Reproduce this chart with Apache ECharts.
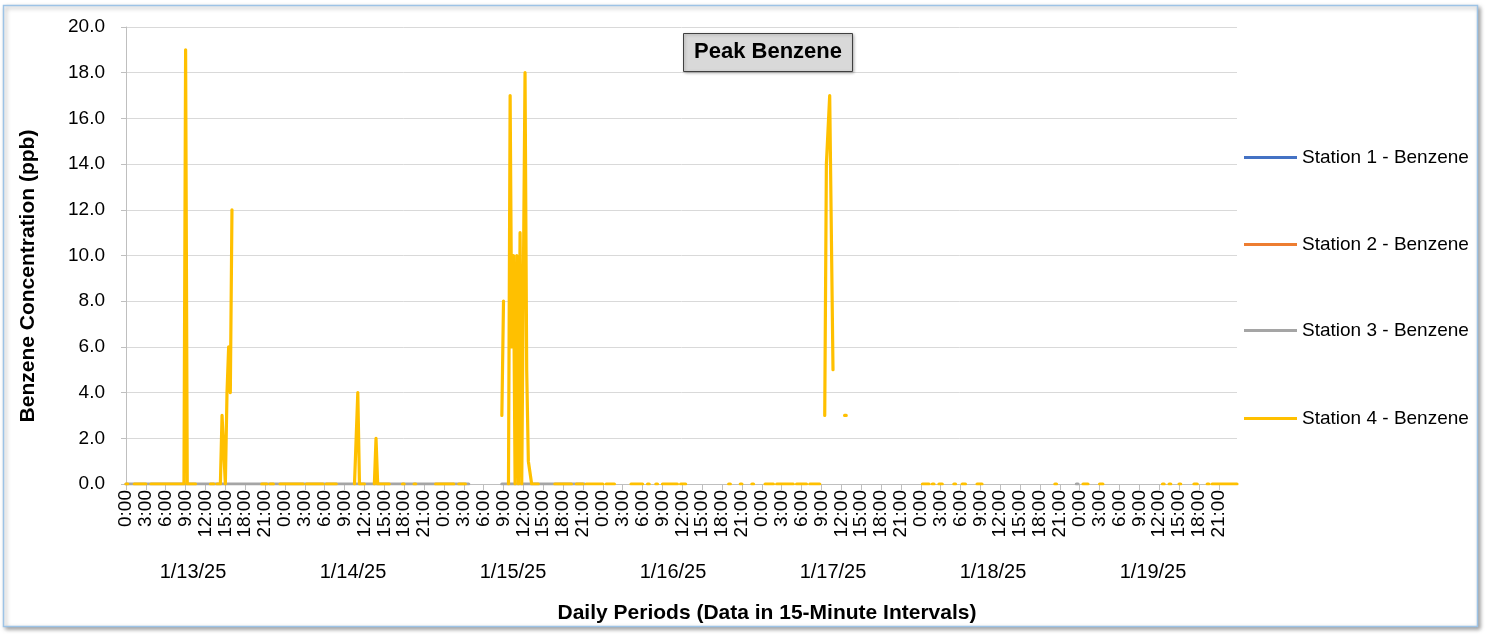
<!DOCTYPE html>
<html>
<head>
<meta charset="utf-8">
<script src="https://cdn.jsdelivr.net/npm/echarts@6/dist/echarts.min.js"></script>
<style>
html,body{margin:0;padding:0;background:#fff;}
#c{width:1486px;height:634px;}
</style>
</head>
<body>
<div id="c"></div>
<script>
// ---------- data ----------
const dates = ['1/13/25','1/14/25','1/15/25','1/16/25','1/17/25','1/18/25','1/19/25'];
const hourLabels = ['0:00','3:00','6:00','9:00','12:00','15:00','18:00','21:00'];
const slotsPerDay = 96;           // 15-minute intervals per day
const seriesNames = ['Station 1 - Benzene','Station 2 - Benzene','Station 3 - Benzene','Station 4 - Benzene'];

// constant-value runs: [firstSlot, lastSlot, value]  (other slots = no data)
const station1Runs = [];
const station2Runs = [];
const station3Runs = [[0,207,0],[227,277,0],[574,575,0]];
const station4Runs = [
  [0,1,0],[5,12,0],[15,35,0],[37,42,0],[51,53,0],[55,57,0],[60,60,0],
  [82,85,0],[87,89,0],[93,107,0],[109,119,0],[121,127,0],
  [138,139,0],[141,144,0],[150,150,0],[152,159,0],[167,168,0],[174,175,0],
  [187,198,0],[201,205,0],
  [231,231,0],[235,235,0],[237,237,0],[239,240,0],[245,249,0],
  [259,269,0],[272,276,0],[278,288,0],[290,295,0],[305,312,0],[315,316,0],
  [320,321,0],[324,333,0],[335,338,0],
  [364,365,0],[371,372,0],[378,379,0],[386,391,0],[393,403,0],[405,411,0],[413,419,0],
  [481,485,0],[487,488,0],[491,493,0],[500,501,0],[505,507,0],[514,517,0],
  [561,562,0],[578,581,0],[588,590,0],[626,627,0],[630,631,0],[636,637,0],
  [645,647,0],[653,654,0],[656,671,0]
];
// individual readings: [slot, value]
const station4Points = [
  [36,19],[58,3],[59,3],[61,4],[62,6],[63,4],[64,12],
  [140,4],[151,2],
  [227,3],[228,8],[232,17],[233,6],[234,10],[236,10],[238,11],[241,18],[242,5],[243,1],[244,1],
  [422,3],[423,14],[424,14],[425,17],[426,17],[427,5],[434,3],[435,3]
];

// ---------- build ----------
const nSlots = dates.length * slotsPerDay;
const categories = [];
dates.forEach(function(d){
  for (let s = 0; s < slotsPerDay; s++) {
    categories.push(s % 12 === 0 ? hourLabels[s/12] : '');
  }
});
function decode(runs, points){
  const arr = new Array(nSlots).fill(null);
  runs.forEach(function(r){ for (let i=r[0]; i<=r[1]; i++) arr[i] = r[2]; });
  (points||[]).forEach(function(p){ arr[p[0]] = p[1]; });
  return arr;
}
const seriesData = [
  decode(station1Runs),
  decode(station2Runs),
  decode(station3Runs),
  decode(station4Runs, station4Points)
];
const colors = ['#4472C4','#ED7D31','#A5A5A5','#FFC000'];
const FONT = 'Liberation Sans';
const legendTops = [148, 235, 321, 409];

const chart = echarts.init(document.getElementById('c'), null, {renderer:'canvas'});
const option = {
  animation: false,
  color: colors,
  textStyle: {fontFamily: FONT},
  grid: [
    {left:126, right:249, top:27, bottom:150},
    {left:113, width:1120, top:27, bottom:150}
  ],
  legend: seriesNames.map(function(n,i){
    return {
      data:[n], left:1244, top:legendTops[i], orient:'vertical', padding:0,
      icon:'rect', itemWidth:53, itemHeight:3, itemGap:5,
      textStyle:{fontFamily:FONT, fontSize:19, color:'#000', padding:[0,0,0,0]}
    };
  }),
  xAxis: [
    {
      type:'category', gridIndex:0, data:categories, boundaryGap:false,
      axisLine:{show:true, lineStyle:{color:'#bfbfbf', width:1}},
      axisTick:{show:true, interval:11, length:6, lineStyle:{color:'#bfbfbf'}},
      axisLabel:{interval:11, rotate:90, margin:6, fontSize:19, color:'#000', fontFamily:FONT},
      splitLine:{show:false}
    },
    {
      type:'category', gridIndex:1, data:dates, boundaryGap:true,
      axisLine:{show:false}, axisTick:{show:false}, splitLine:{show:false},
      axisLabel:{margin:78, fontSize:20, color:'#000', fontFamily:FONT}
    }
  ],
  yAxis: [
    {
      type:'value', gridIndex:0, min:0, max:20, interval:2,
      axisLine:{show:true, lineStyle:{color:'#bfbfbf'}},
      axisTick:{show:true, length:5, lineStyle:{color:'#bfbfbf'}},
      axisLabel:{formatter:function(v){return v.toFixed(1);}, fontSize:19, color:'#000', margin:21, fontFamily:FONT},
      splitLine:{show:true, lineStyle:{color:'#d9d9d9', width:1}}
    },
    {type:'value', gridIndex:1, show:false, min:0, max:20}
  ],
  series: seriesData.map(function(d,i){
    return {
      name: seriesNames[i], type:'line', xAxisIndex:0, yAxisIndex:0,
      data: d, showSymbol:false, symbol:'none', connectNulls:false,
      lineStyle:{width:3.2, color:colors[i], cap:'round', join:'round'},
      itemStyle:{color:colors[i]},
      z: 2 + i
    };
  }),
  graphic: [
    {type:'rect', z:-10, silent:true,
     shape:{x:3.5, y:5.5, width:1474, height:621},
     style:{fill:'#fff', stroke:'#9dc3e6', lineWidth:1.5, shadowBlur:4, shadowOffsetX:2, shadowOffsetY:2, shadowColor:'rgba(0,0,0,0.35)'}},
    {type:'rect', z:50, silent:true,
     shape:{x:683.5, y:33.5, width:169, height:38},
     style:{fill:'#d9d9d9', stroke:'#404040', lineWidth:1, shadowBlur:3, shadowOffsetX:1, shadowOffsetY:1, shadowColor:'rgba(0,0,0,0.3)'}},
    {type:'text', z:51, silent:true, x:768, y:52,
     style:{text:'Peak Benzene', font:'bold 22px "Liberation Sans"', fill:'#000', align:'center', verticalAlign:'middle'}},
    {type:'text', z:51, silent:true, x:767, y:613,
     style:{text:'Daily Periods (Data in 15-Minute Intervals)', font:'bold 21px "Liberation Sans"', fill:'#000', align:'center', verticalAlign:'middle'}},
    {type:'text', z:51, silent:true, x:28, y:276, rotation:Math.PI/2,
     style:{text:'Benzene Concentration (ppb)', font:'bold 21px "Liberation Sans"', fill:'#000', align:'center', verticalAlign:'middle'}}
  ]
};
chart.setOption(option);
</script>
</body>
</html>
